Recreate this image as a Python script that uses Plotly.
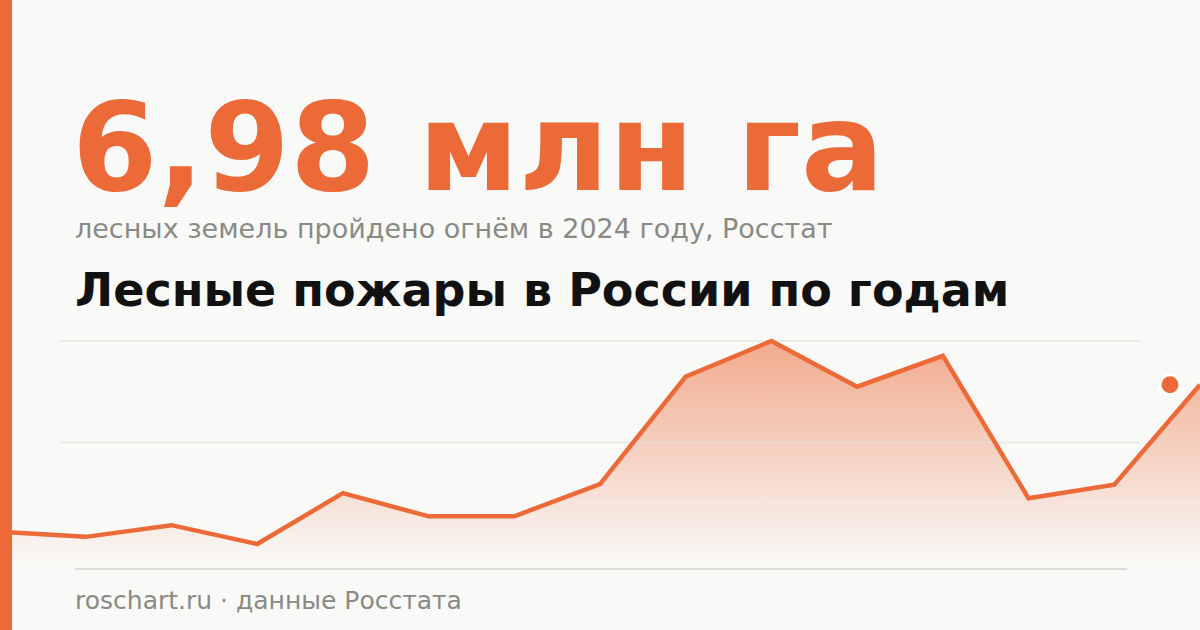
import plotly.graph_objects as go

# Лесные пожары в России, площадь лесных земель, пройденная огнём (млн га)
years = list(range(2010, 2025))
burned_area = [1.83, 1.65, 2.06, 1.40, 3.18, 2.37, 2.37, 3.50, 7.26, 8.51, 6.91, 7.99, 3.00, 3.48, 6.98]

headline = "6,98 млн га"
subtitle = "лесных земель пройдено огнём в 2024 году, Росстат"
chart_title = "Лесные пожары в России по годам"
footer = "roschart.ru · данные Росстата"

ORANGE = "#ec6a37"
BG = "#f9f9f7"
GREY = "#8a8a85"
W, H = 1200, 630

# chart band in pixels: max value sits at y=341, min at y=544
vmin, vmax = min(burned_area), max(burned_area)
span = vmax - vmin
top_px, bot_px = 341, 544
ppu = (bot_px - top_px) / span
y_lo = vmin - (H - bot_px) / ppu
y_hi = vmax + top_px / ppu
fade_to = vmin - (565 - bot_px) / ppu

x_lo, x_hi = years[0], years[-1]
def px_to_x(px):
    return x_lo + px / W * (x_hi - x_lo)

fig = go.Figure()

# gradient area under the line
fig.add_trace(go.Scatter(
    x=years, y=burned_area, mode="lines", line=dict(width=0),
    fill="tozeroy",
    fillgradient=dict(
        type="vertical",
        colorscale=[[0, "rgba(236,106,55,0)"], [1, "rgba(236,106,55,0.55)"]],
        start=fade_to, stop=vmax,
    ),
    hoverinfo="skip", showlegend=False,
))

# gridlines at max and midpoint, drawn over the fill but under the line
for gy in [vmax, (vmin + vmax) / 2]:
    fig.add_trace(go.Scatter(
        x=[px_to_x(60), px_to_x(1140)], y=[gy, gy], mode="lines",
        line=dict(color="rgba(225,225,222,0.6)", width=2),
        hoverinfo="skip", showlegend=False,
    ))

fig.add_trace(go.Scatter(
    x=years, y=burned_area, mode="lines",
    line=dict(color=ORANGE, width=4.5),
    showlegend=False,
))

# highlight dot for the latest year
fig.add_trace(go.Scatter(
    x=[years[-1] - 0.35], y=[burned_area[-1]], mode="markers",
    marker=dict(color=ORANGE, size=20, line=dict(color="white", width=3)),
    cliponaxis=False, showlegend=False,
))

fig.update_xaxes(range=[x_lo, x_hi], visible=False, domain=[0, 1])
fig.update_yaxes(range=[y_lo, y_hi], visible=False, domain=[0, 1])

shapes = [
    dict(type="rect", xref="paper", yref="paper", x0=0, x1=12 / W, y0=0, y1=1,
         fillcolor=ORANGE, line=dict(width=0), layer="above"),
    dict(type="line", xref="paper", yref="paper", x0=75 / W, x1=1127 / W,
         y0=1 - 569 / H, y1=1 - 569 / H, line=dict(color="#dcdcd8", width=2)),
]

def ann(text, y_px, size, color, bold=False, x_px=73):
    return dict(
        text=f"<b>{text}</b>" if bold else text,
        xref="paper", yref="paper", x=x_px / W, y=1 - y_px / H,
        xanchor="left", yanchor="middle", showarrow=False,
        font=dict(family="DejaVu Sans", size=size, color=color),
    )

fig.update_layout(
    width=W, height=H,
    margin=dict(l=0, r=0, t=0, b=0),
    paper_bgcolor=BG, plot_bgcolor=BG,
    shapes=shapes,
    annotations=[
        ann(headline, 147, 123, ORANGE, bold=True, x_px=70),
        ann(subtitle, 228, 27, GREY),
        ann(chart_title, 290, 46, "#111111", bold=True),
        ann(footer, 600, 25, GREY),
    ],
)

# drop the browser's default body margin so the card sits flush in the window
fig.write_html("out.html", config={"displayModeBar": False},
               post_script="document.body.style.margin='0';")
